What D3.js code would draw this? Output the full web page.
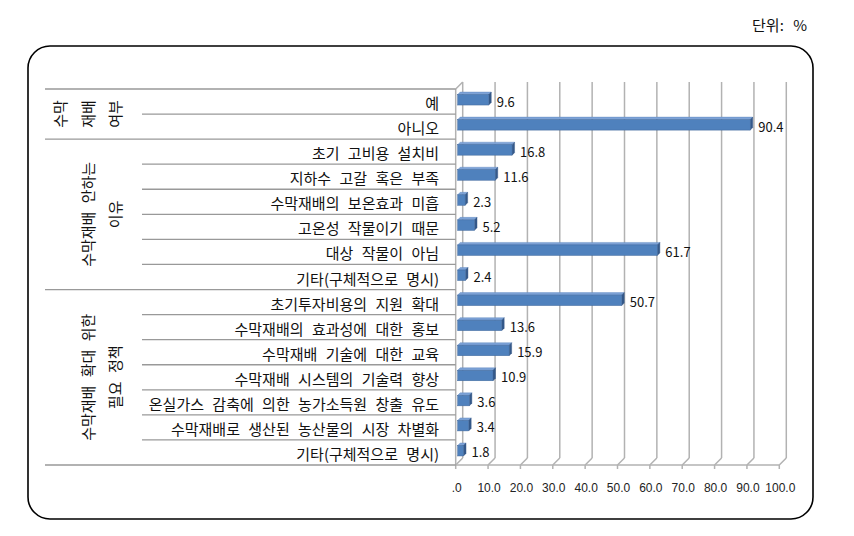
<!DOCTYPE html>
<html><head><meta charset="utf-8">
<script src="https://cdn.jsdelivr.net/npm/d3@7"></script>
<style>body{margin:0;background:#fff}svg{display:block}</style>
</head><body>
<svg id="c" width="854" height="536"></svg>
<script>
const categories = ["예","아니오","초기 고비용 설치비","지하수 고갈 혹은 부족","수막재배의 보온효과 미흡","고온성 작물이기 때문","대상 작물이 아님","기타(구체적으로 명시)","초기투자비용의 지원 확대","수막재배의 효과성에 대한 홍보","수막재배 기술에 대한 교육","수막재배 시스템의 기술력 향상","온실가스 감축에 의한 농가소득원 창출 유도","수막재배로 생산된 농산물의 시장 차별화","기타(구체적으로 명시)"];
const values = [9.6,90.4,16.8,11.6,2.3,5.2,61.7,2.4,50.7,13.6,15.9,10.9,3.6,3.4,1.8];
const groupLabels = [["수막","재배","여부"],["수막재배 안하는","이유"],["수막재배 확대 위한","필요 정책"]];
const groupSizes = [2,6,7];
const tickValues = [0,10,20,30,40,50,60,70,80,90,100];
const tickLabels = [".0","10.0","20.0","30.0","40.0","50.0","60.0","70.0","80.0","90.0","100.0"];
const unitLabel = "단위: %";

const svg = d3.select("#c");
const KR = "'Noto Sans CJK KR','Noto Sans',sans-serif";
const D = 7; // depth offset of 3D back wall

const x = d3.scaleLinear().domain([0,100]).range([455.7,779.3]);
const y = d3.scaleBand().domain(d3.range(categories.length)).range([89,465]).padding(0);
const bh = y.bandwidth();
const plotTop = y.range()[0], plotBot = y.range()[1];

// frame
svg.append("rect").attr("x",28).attr("y",46).attr("width",785).attr("height",473)
  .attr("rx",22).attr("ry",22).attr("fill","none").attr("stroke","#000").attr("stroke-width",1.6);

// unit label
svg.append("text").attr("x",807).attr("y",31).attr("text-anchor","end")
  .attr("font-family",KR).attr("font-size",15).attr("word-spacing","6px").attr("fill","#111").text(unitLabel);

const grid = svg.append("g").attr("stroke","#b2b2b2").attr("stroke-width",1.5).attr("fill","none");
tickValues.forEach(v=>{
  grid.append("line").attr("x1",x(v)+D).attr("x2",x(v)+D).attr("y1",plotTop-D).attr("y2",plotBot-D);
  grid.append("line").attr("x1",x(v)).attr("x2",x(v)+D).attr("y1",plotBot).attr("y2",plotBot-D);
});
grid.append("line").attr("x1",x(0)).attr("x2",x(0)).attr("y1",plotTop).attr("y2",plotBot);
grid.append("line").attr("x1",x(0)).attr("x2",x(0)+D).attr("y1",plotTop).attr("y2",plotTop-D);
grid.append("line").attr("x1",x(0)).attr("x2",x(100)).attr("y1",plotBot).attr("y2",plotBot);
tickValues.forEach(v=>{
  grid.append("line").attr("x1",x(v)).attr("x2",x(v)).attr("y1",plotBot).attr("y2",plotBot+4);
});

// tick labels
svg.append("g").selectAll("text").data(tickValues).join("text")
  .attr("x",d=>x(d)+1).attr("y",492).attr("text-anchor","middle")
  .attr("font-family","'Liberation Sans Narrow','Liberation Sans',sans-serif").attr("font-size",12)
  .attr("fill","#222").text((d,i)=>tickLabels[i]);

// category axis lines
const cat = svg.append("g").attr("stroke","#999").attr("stroke-width",1.3);
let starts = [0]; groupSizes.forEach(s=>starts.push(starts[starts.length-1]+s));
for(let i=0;i<=categories.length;i++){
  const yy = i<categories.length ? y(i) : plotBot;
  const isGroup = starts.includes(i);
  cat.append("line").attr("x1",isGroup?45:142).attr("x2",x(0)).attr("y1",yy).attr("y2",yy);
}

// category labels
svg.append("g").selectAll("text").data(categories).join("text")
  .attr("x",439).attr("y",(d,i)=>y(i)+bh/2+7.5).attr("text-anchor","end")
  .attr("font-family",KR).attr("font-size",15).attr("word-spacing","5px")
  .attr("fill","#111").text(d=>d);

// group labels (rotated)
groupLabels.forEach((lines,g)=>{
  const y0 = y(starts[g]);
  const y1 = starts[g+1]<categories.length ? y(starts[g+1]) : plotBot;
  const cy = (y0+y1)/2;
  lines.forEach((t,k)=>{
    const cx = 116 - (lines.length-1-k)*27.5;
    svg.append("text").attr("transform",`translate(${cx+5},${cy}) rotate(-90)`)
      .attr("text-anchor","middle").attr("font-family",KR).attr("font-size",15)
      .attr("word-spacing","5px").attr("fill","#111").text(t);
  });
});

// 3D bars
const bars = svg.append("g");
const dd = 2.5;
values.forEach((v,i)=>{
  const c = y(i)+bh/2;
  const x1 = x(0)+2, x2 = x(v)+2, y1 = c-7, y2 = c+3.5;
  const g = bars.append("g");
  g.append("path").attr("d",`M${x1},${y1}L${x1+dd},${y1-dd}L${x2+dd},${y1-dd}L${x2},${y1}Z`)
    .attr("fill","#7da2d6").attr("stroke","#5b86c0").attr("stroke-width",0.4);
  g.append("path").attr("d",`M${x2},${y1}L${x2+dd},${y1-dd}L${x2+dd},${y2-dd}L${x2},${y2}Z`)
    .attr("fill","#35598a").attr("stroke","#2f5080").attr("stroke-width",0.4);
  g.append("rect").attr("x",x1).attr("y",y1).attr("width",Math.max(0,x2-x1)).attr("height",y2-y1)
    .attr("fill","#4f81bd").attr("stroke","#41689b").attr("stroke-width",0.5);
});

// value labels
svg.append("g").selectAll("text").data(values).join("text")
  .attr("x",d=>x(d)+10).attr("y",(d,i)=>y(i)+bh/2+5)
  .attr("font-family",KR).attr("font-size",13).attr("fill","#111")
  .text(d=>d.toFixed(1));
</script>
</body></html>
